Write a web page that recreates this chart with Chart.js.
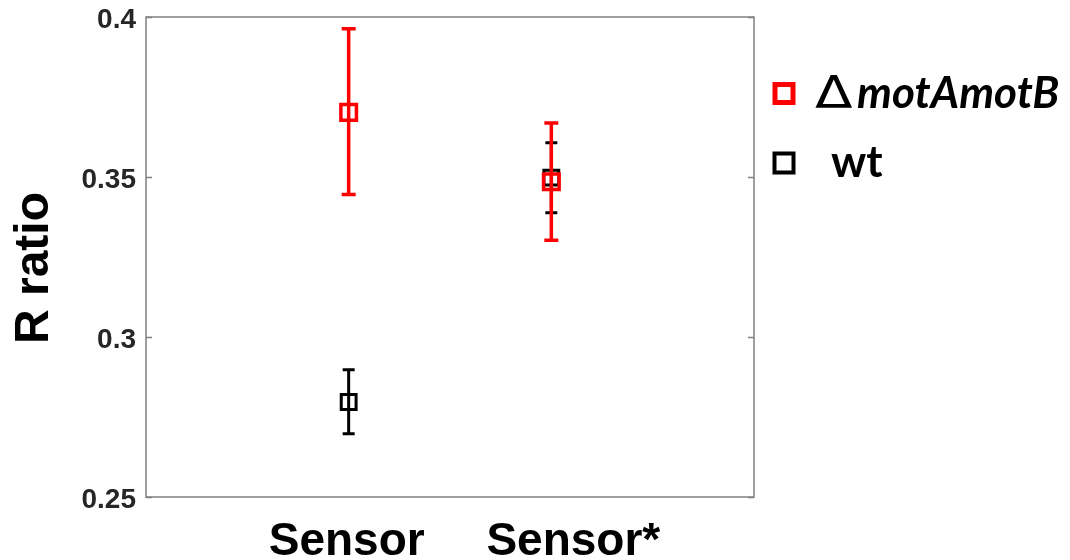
<!DOCTYPE html>
<html><head><meta charset="utf-8">
<script src="https://cdn.jsdelivr.net/npm/chart.js@4.4.1/dist/chart.umd.min.js"></script>
<style>html,body{margin:0;padding:0;background:#fff}#wrap{width:1070px;height:560px;position:relative}</style>
</head><body><div id="wrap"><canvas id="c"></canvas></div>
<script>
const categories = ['Sensor', 'Sensor*'];
const categoryPositions = [1, 2];
const seriesNames = ['\u0394motAmotB', 'wt'];
const mutMean = [0.3702, 0.3485];
const mutLow = [0.3445, 0.3302];
const mutHigh = [0.3963, 0.3669];
const wtMean = [0.2797, 0.3498];
const wtLow = [0.2698, 0.3388];
const wtHigh = [0.2898, 0.3607];
const yTicks = [0.25, 0.3, 0.35, 0.4];
const yTitle = 'R ratio';

const RED = '#ff0000', BLACK = '#000000', AXIS = '#808080';
const SANS = '"Liberation Sans", Arial, sans-serif';

function pts(mean) { return mean.map((v, i) => ({x: categoryPositions[i], y: v})); }

const errLow = [mutLow, wtLow], errHigh = [mutHigh, wtHigh];

const errorBars = {
  id: 'errorBars',
  beforeDatasetDraw(chart, args) {
    const i = args.index, ds = chart.data.datasets[i];
    const xs = chart.scales.x, ys = chart.scales.y, ctx = chart.ctx;
    ctx.save();
    ctx.strokeStyle = ds.borderColor;
    ctx.lineWidth = ds.errWidth;
    ctx.lineCap = 'butt';
    errLow[i].forEach((lo, k) => {
      const px = xs.getPixelForValue(categoryPositions[k]);
      const y1 = ys.getPixelForValue(lo), y2 = ys.getPixelForValue(errHigh[i][k]);
      const cw = ds.capHalf;
      ctx.beginPath();
      ctx.moveTo(px, y1); ctx.lineTo(px, y2);
      ctx.moveTo(px - cw, y1); ctx.lineTo(px + cw, y1);
      ctx.moveTo(px - cw, y2); ctx.lineTo(px + cw, y2);
      ctx.stroke();
    });
    ctx.restore();
  }
};

const frame = {
  id: 'frame',
  beforeDatasetsDraw(chart) {
    const {ctx, chartArea: a} = chart, ys = chart.scales.y;
    ctx.save();
    ctx.strokeStyle = AXIS; ctx.lineWidth = 1.5;
    ctx.strokeRect(a.left, a.top, a.right - a.left, a.bottom - a.top);
    ctx.beginPath();
    yTicks.forEach(v => {
      const y = Math.round(ys.getPixelForValue(v)) + 0.5;
      ctx.moveTo(a.left, y); ctx.lineTo(a.left + 6, y);
      ctx.moveTo(a.right, y); ctx.lineTo(a.right - 6, y);
    });
    ctx.stroke();
    ctx.restore();
  }
};

const texts = {
  id: 'texts',
  afterDraw(chart) {
    const {ctx, chartArea: a} = chart, xs = chart.scales.x;
    ctx.save();
    ctx.fillStyle = '#000';
    // category labels
    const nudge = [-2, 22];
    ctx.font = 'bold 46px ' + SANS;
    ctx.textAlign = 'center'; ctx.textBaseline = 'alphabetic';
    categories.forEach((c, k) => {
      ctx.fillText(c, xs.getPixelForValue(categoryPositions[k]) + nudge[k], a.bottom + 58);
    });
    // y title
    ctx.save();
    ctx.translate(48, (a.top + a.bottom) / 2 + 11);
    ctx.rotate(-Math.PI / 2);
    ctx.font = 'bold 48px ' + SANS;
    ctx.fillText(yTitle, 0, 0);
    ctx.restore();
    // legend
    const sx = a.right + 30;
    const rows = [{color: RED, lw: 5, y: 93.5}, {color: BLACK, lw: 4, y: 163}];
    rows.forEach(r => {
      ctx.strokeStyle = r.color; ctx.lineWidth = r.lw;
      const s = 23 - r.lw;
      ctx.strokeRect(sx - s / 2, r.y - s / 2, s, s);
    });
    ctx.textAlign = 'left';
    const name0 = seriesNames[0];
    ctx.save();
    ctx.translate(sx + 31, 108);
    ctx.scale(1.22, 1);
    ctx.font = '45px "DejaVu Sans"';
    ctx.fillText(name0.charAt(0), 0, 0);
    ctx.restore();
    ctx.font = 'italic bold 44px Lato';
    ctx.fillText(name0.slice(1), sx + 73, 108);
    ctx.font = 'bold 44px Lato';
    ctx.fillText(seriesNames[1], sx + 47, 177);
    ctx.restore();
  }
};

new Chart(document.getElementById('c'), {
  type: 'scatter',
  data: {
    datasets: [
      {label: seriesNames[0], data: pts(mutMean), borderColor: RED, backgroundColor: 'rgba(0,0,0,0)',
       pointStyle: 'rect', pointRadius: 11, pointBorderWidth: 3.5, pointHoverRadius: 11, errWidth: 3.5, capHalf: 7},
      {label: seriesNames[1], data: pts(wtMean), borderColor: BLACK, backgroundColor: 'rgba(0,0,0,0)',
       pointStyle: 'rect', pointRadius: 10.5, pointBorderWidth: 3, pointHoverRadius: 10.5, errWidth: 3, capHalf: 6}
    ]
  },
  options: {
    responsive: true, maintainAspectRatio: false, animation: false, devicePixelRatio: 1,
    layout: {padding: {left: 0, top: 17, right: 316, bottom: 0}},
    plugins: {legend: {display: false}, tooltip: {enabled: false}},
    scales: {
      x: {
        type: 'linear', min: 0, max: 3,
        afterFit(s) { s.height = 63; s.paddingLeft = 0; s.paddingRight = 0; },
        grid: {display: false, drawTicks: false},
        border: {display: false},
        ticks: {display: false}
      },
      y: {
        min: 0.25, max: 0.4,
        afterBuildTicks(s) { s.ticks = yTicks.map(v => ({value: v})); },
        afterFit(s) { s.width = 146; s.paddingTop = 0; s.paddingBottom = 0; },
        grid: {display: false, drawTicks: false},
        border: {display: false},
        ticks: {
          callback: (v) => String(Math.round(v * 100) / 100),
          font: {family: SANS, weight: 'bold', size: 28},
          color: '#262626', padding: 10, labelOffset: 3
        }
      }
    }
  },
  plugins: [frame, errorBars, texts]
});
</script></body></html>
